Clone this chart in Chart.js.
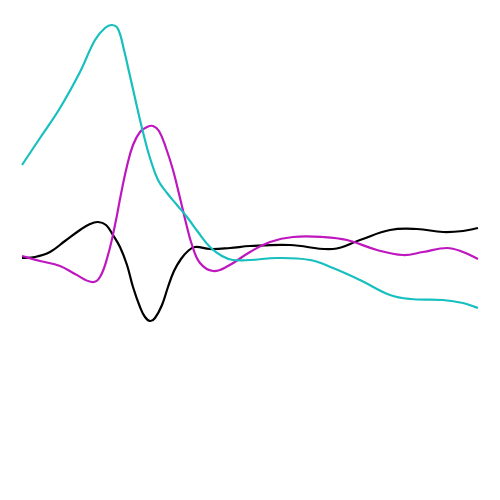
<!DOCTYPE html>
<html><head><meta charset="utf-8">
<script src="https://cdn.jsdelivr.net/npm/chart.js@4"></script>
<style>html,body{margin:0;padding:0;background:#fff}#w{width:500px;height:500px}</style>
</head><body><div id="w"><canvas id="c" width="500" height="500"></canvas></div>
<script>
// x positions (horizontal units 0-500) and heights (units 0-500, up = larger)
const cyanX = [22,40,60,80,95,105,112,118,124,130,135,140,145,150,158,167,177,187,198,210,222,233,250,277,310,333,360,390,410,443,463,478];
const cyanY = [335,362,392,428,460,472,475,471,450,424,402,380,360,342,320,307,295,283,268,253,244,240,240,242,240,232,220,205,201,200,197,192];
const magentaX = [22,40,60,75,92,100,108,115,121,127,133,140,147,153,159,166,173,180,186,192,200,213,228,250,270,293,323,347,377,403,423,447,463,478];
const magentaY = [244,239,234,226,218,223,245,275,306,334,355,368,373,374,369,352,330,302,277,255,237,229,234,248,258,263,263,260,250,245,248,252,248,241];
const blackX = [22,35,50,65,80,90,98,106,113,120,127,133,140,145,150,155,162,168,174,181,188,195,210,230,250,290,333,360,390,417,443,463,478];
const blackY = [242,243,248,259,270,276,278,275,265,253,235,213,193,183,179,182,195,213,229,241,249,253,251,252,254,255,251,260,270,271,268,269,272];

function pts(xs, ys){ return xs.map((x,i)=>({x:x,y:ys[i]})); }

new Chart(document.getElementById('c'), {
  type: 'line',
  data: {
    datasets: [
      {label:'cyan', data: pts(cyanX,cyanY), borderColor:'#17bfbf', borderWidth:2.2, pointRadius:0, tension:0.4, fill:false},
      {label:'magenta', data: pts(magentaX,magentaY), borderColor:'#bf17bf', borderWidth:2.2, pointRadius:0, tension:0.4, fill:false},
      {label:'black', data: pts(blackX,blackY), borderColor:'#000000', borderWidth:2.2, pointRadius:0, tension:0.4, fill:false}
    ]
  },
  options: {
    responsive:false, animation:false,
    layout:{padding:0},
    plugins:{legend:{display:false}, tooltip:{enabled:false}},
    scales:{
      x:{type:'linear', min:0, max:500, display:false},
      y:{type:'linear', min:0, max:500, display:false}
    }
  }
});
</script></body></html>
